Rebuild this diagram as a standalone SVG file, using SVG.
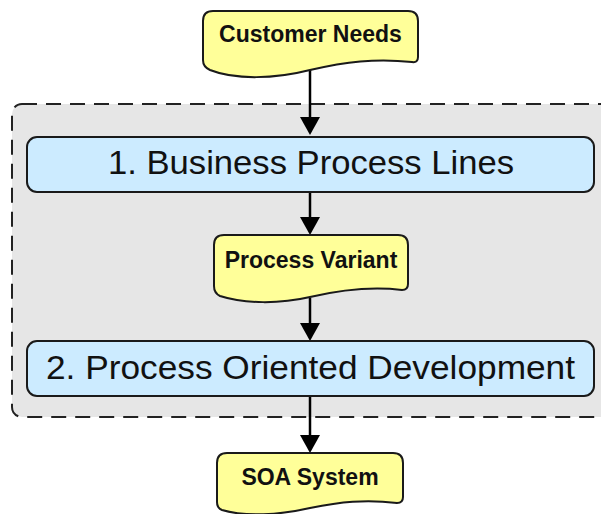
<svg xmlns="http://www.w3.org/2000/svg" width="601" height="514" viewBox="0 0 601 514">
<style>
.doc{fill:#FFFF99;stroke:#1a1a1a;stroke-width:2}
.proc{fill:#CCEBFF;stroke:#1a1a1a;stroke-width:2}
.bold{font-family:"Liberation Sans",Arial,sans-serif;font-weight:bold;font-size:23px;fill:#111;text-anchor:middle}
.big{font-family:"Liberation Sans",Arial,sans-serif;font-size:34px;fill:#111;text-anchor:middle}
.conn{stroke:#000;stroke-width:2.5;fill:none;marker-end:url(#arr)}
</style>
<defs>
<marker id="arr" markerUnits="userSpaceOnUse" markerWidth="18" markerHeight="20" viewBox="0 0 18 20" refX="13" refY="10" orient="auto">
<path d="M0,0 L18,10 L0,20 Z" fill="#000"/>
</marker>
</defs>
<rect width="601" height="514" fill="#fff"/>
<g id="group">
<rect x="12" y="104" width="600" height="313" rx="10" fill="#E6E6E6" stroke="#222" stroke-width="2" stroke-dasharray="15,9"/>
</g>
<g id="connectors">
<line class="conn" x1="310" y1="68" x2="310" y2="130"/>
<line class="conn" x1="310" y1="192" x2="310" y2="230"/>
<line class="conn" x1="310" y1="298" x2="310" y2="336"/>
<line class="conn" x1="310" y1="396" x2="310" y2="448"/>
</g>
<g id="customer-needs">
<path class="doc" d="M213,11 H408 Q418,11 418,21 V57 Q418,63 412,62 C375,58 345,62 310,70 C275,79 235,80 210,70 Q203,67 203,60 V21 Q203,11 213,11 Z"/>
<text class="bold" x="310.5" y="42">Customer Needs</text>
</g>
<g id="business-process-lines">
<rect class="proc" x="27" y="137" width="567" height="55" rx="10"/>
<text class="big" x="311" y="174" textLength="406" lengthAdjust="spacingAndGlyphs">1. Business Process Lines</text>
</g>
<g id="process-variant">
<path class="doc" d="M224,235 H398 Q408,235 408,245 V284 Q408,290 402,290 C370,286 340,290 310,297 C280,304 245,304 220,296 Q214,293 214,286 V245 Q214,235 224,235 Z"/>
<text class="bold" x="311" y="268">Process Variant</text>
</g>
<g id="process-oriented-development">
<rect class="proc" x="27" y="341" width="567" height="55" rx="10"/>
<text class="big" x="310.5" y="379" textLength="529" lengthAdjust="spacingAndGlyphs">2. Process Oriented Development</text>
</g>
<g id="soa-system">
<path class="doc" d="M227,453 H393 Q403,453 403,463 V497 Q403,503 397,503 C365,499 340,502 310,508 C280,515 245,517 222,510 Q217,508 217,502 V463 Q217,453 227,453 Z"/>
<text class="bold" x="310" y="485">SOA System</text>
</g>
</svg>
